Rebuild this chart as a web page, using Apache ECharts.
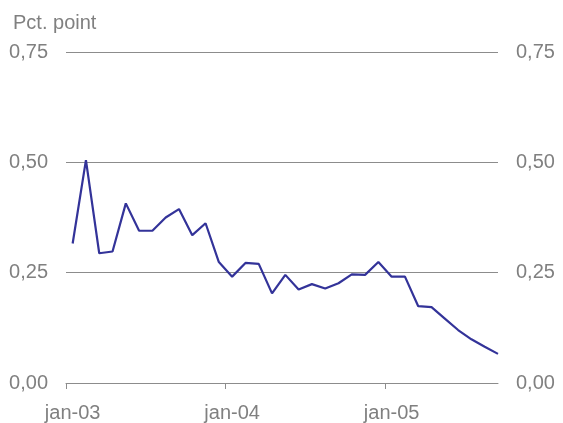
<!DOCTYPE html>
<html>
<head>
<meta charset="utf-8">
<script src="https://cdn.jsdelivr.net/npm/echarts@6/dist/echarts.min.js"></script>
<style>
  html, body { margin: 0; padding: 0; background: #fff; }
  #chart { width: 563px; height: 423px; }
</style>
</head>
<body>
<div id="chart"></div>
<script>
// monthly, jan-03 .. sep-05
const months = ['jan-03','feb-03','mar-03','apr-03','maj-03','jun-03','jul-03','aug-03','sep-03','okt-03','nov-03','dec-03',
  'jan-04','feb-04','mar-04','apr-04','maj-04','jun-04','jul-04','aug-04','sep-04','okt-04','nov-04','dec-04',
  'jan-05','feb-05','mar-05','apr-05','maj-05','jun-05','jul-05','aug-05','sep-05'];
const values = [0.316, 0.505, 0.294, 0.298, 0.407, 0.345, 0.345, 0.375, 0.394, 0.335, 0.362, 0.274,
  0.241, 0.272, 0.270, 0.203, 0.245, 0.212, 0.224, 0.214, 0.226, 0.246, 0.245, 0.274,
  0.241, 0.241, 0.174, 0.172, 0.146, 0.120, 0.099, 0.082, 0.066];
const yTicks = [0, 0.25, 0.5, 0.75];
const xTicks = [0, 12, 24]; // start of january each year
const xLabelPos = [0.5, 12.5, 24.5]; // labels sit mid-month

const grey = '#808080';
const fmt = v => v.toFixed(2).replace('.', ',');

const chart = echarts.init(document.getElementById('chart'));

const yAxisBase = {
  type: 'value',
  min: 0,
  max: 0.75,
  interval: 0.25,
  axisLine: { show: false },
  axisTick: { show: false },
  axisLabel: { color: grey, fontSize: 20, fontFamily: 'Liberation Sans', margin: 18, formatter: fmt },
  splitLine: { lineStyle: { color: '#8c8c8c', width: 1 } }
};

chart.setOption({
  animation: false,
  title: {
    text: 'Pct. point',
    left: 8,
    top: 8,
    textStyle: { color: grey, fontSize: 20, fontWeight: 'normal', fontFamily: 'Liberation Sans' }
  },
  grid: { left: 66, right: 65, top: 52, bottom: 40 },
  xAxis: {
    type: 'value',
    min: 0,
    max: months.length - 0.5,
    interval: 12,
    axisLine: { lineStyle: { color: '#8c8c8c', width: 1 } },
    axisTick: { customValues: xTicks, length: 6, inside: false, lineStyle: { color: '#8c8c8c' } },
    axisLabel: {
      customValues: xLabelPos,
      color: grey,
      fontSize: 20,
      fontFamily: 'Liberation Sans',
      margin: 20,
      formatter: v => months[Math.floor(v)] || ''
    },
    splitLine: { show: false }
  },
  yAxis: [
    Object.assign({}, yAxisBase, { position: 'left' }),
    Object.assign({}, yAxisBase, { position: 'right', splitLine: { show: false } })
  ],
  series: [{
    type: 'line',
    data: values.map((v, i) => [i + 0.5, v]),
    symbol: 'none',
    lineStyle: { color: '#333399', width: 2.2 }
  }]
});
</script>
</body>
</html>
